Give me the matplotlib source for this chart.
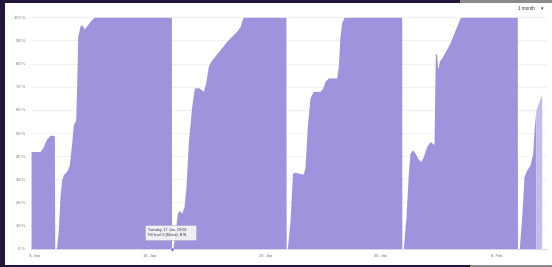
import matplotlib
matplotlib.use("Agg")
import matplotlib.pyplot as plt
import matplotlib.dates as mdates
from matplotlib.patches import Rectangle, FancyBboxPatch
import pandas as pd

# ---------------- data ----------------
times = [
    "2023-01-08 19:00", "2023-01-09 08:00", "2023-01-09 10:30", "2023-01-09 12:50",
    "2023-01-09 15:15", "2023-01-09 17:45", "2023-01-09 20:00", "2023-01-09 22:30",
    "2023-01-10 04:50", "2023-01-10 05:30", "2023-01-10 07:15", "2023-01-10 08:15",
    "2023-01-10 10:35", "2023-01-10 13:05", "2023-01-10 15:30", "2023-01-10 17:55",
    "2023-01-10 22:50", "2023-01-11 02:35", "2023-01-11 06:05", "2023-01-11 08:25",
    "2023-01-11 11:55", "2023-01-11 13:25", "2023-01-11 14:50", "2023-01-11 16:15",
    "2023-01-11 18:10", "2023-01-11 20:40", "2023-01-12 00:25", "2023-01-12 03:55",
    "2023-01-12 08:45", "2023-01-12 13:30", "2023-01-12 15:00", "2023-01-17 07:05",
    "2023-01-17 07:20", "2023-01-17 09:25", "2023-01-17 12:20", "2023-01-17 15:45",
    "2023-01-17 18:35", "2023-01-17 22:05", "2023-01-18 01:30", "2023-01-18 04:20",
    "2023-01-18 07:40", "2023-01-18 12:40", "2023-01-18 16:25", "2023-01-18 22:15",
    "2023-01-19 01:45", "2023-01-19 05:30", "2023-01-19 09:00", "2023-01-19 12:50",
    "2023-01-19 16:20", "2023-01-19 20:05", "2023-01-20 15:35", "2023-01-21 06:05",
    "2023-01-21 10:55", "2023-01-21 14:50", "2023-01-21 15:45", "2023-01-24 05:45",
    "2023-01-24 06:00", "2023-01-24 07:40", "2023-01-24 11:40", "2023-01-24 15:15",
    "2023-01-24 18:55", "2023-01-25 02:10", "2023-01-25 07:00", "2023-01-25 09:25",
    "2023-01-25 12:50", "2023-01-25 16:45", "2023-01-25 21:30", "2023-01-26 07:15",
    "2023-01-26 11:10", "2023-01-26 14:35", "2023-01-26 19:20", "2023-01-27 07:35",
    "2023-01-27 09:55", "2023-01-27 12:20", "2023-01-27 14:50", "2023-01-27 18:10",
    "2023-01-31 06:05", "2023-01-31 06:20", "2023-01-31 08:25", "2023-01-31 12:20",
    "2023-01-31 15:45", "2023-01-31 18:10", "2023-01-31 22:05", "2023-02-01 01:30",
    "2023-02-01 06:15", "2023-02-01 09:45", "2023-02-01 13:30", "2023-02-01 18:30",
    "2023-02-01 23:15", "2023-02-02 02:35", "2023-02-02 05:05", "2023-02-02 07:00",
    "2023-02-02 09:00", "2023-02-02 10:30", "2023-02-02 12:50", "2023-02-02 16:20",
    "2023-02-03 04:20", "2023-02-03 14:05", "2023-02-03 18:55", "2023-02-03 20:20",
    "2023-02-07 06:15", "2023-02-07 06:30", "2023-02-07 09:10", "2023-02-07 12:40",
    "2023-02-07 16:00", "2023-02-07 19:55", "2023-02-08 00:45", "2023-02-08 04:40",
    "2023-02-08 07:00", "2023-02-08 09:25", "2023-02-08 12:50", "2023-02-08 15:15",
    "2023-02-08 17:45",
]
fill_level = [
    42, 42, 43, 44, 46, 47.5, 48, 49,
    49, 0, 0, 1, 8, 22.5, 29.7, 32,
    33.5, 36, 45.6, 53.5, 55.7, 71.7, 91.8, 93.4,
    96.3, 96.8, 95, 96.3, 98.3, 99.7, 100, 100,
    0, 0, 6.8, 15.3, 16.6, 15.3, 18.2, 26.8,
    45.6, 61.5, 69.4, 69.6, 69, 68, 71.6, 78.8,
    81, 82.4, 89.6, 94, 96, 99.7, 100, 100,
    0, 0, 12, 32.6, 33, 32.5, 32.3, 35.3,
    52.8, 65.1, 68, 68, 69.4, 72.3, 73.8, 73.8,
    78.8, 91.8, 97.6, 100, 100, 0, 0, 13.9,
    32.6, 41.3, 42.7, 41.3, 38.7, 37.7, 39.8, 44.2,
    46.3, 45.6, 44.9, 84.6, 83.8, 77.4, 81, 82.4,
    88.9, 96.1, 99.7, 100, 100, 0, 0, 13.9,
    31.2, 34, 36.2, 41.3, 52.8, 60, 62.9, 65,
    66.5,
]
highlight_start = "2023-02-08 09:25"
tick_dates = ["2023-01-09", "2023-01-16", "2023-01-23", "2023-01-30", "2023-02-06"]
tick_labels = ["9. Jan", "16. Jan", "23. Jan", "30. Jan", "6. Feb"]
y_ticks = [0, 10, 20, 30, 40, 50, 60, 70, 80, 90, 100]
tooltip_time = "2023-01-17 07:20"
tooltip_value = 0
tooltip_line1 = "Tuesday, 17. Jan, 09:09"
tooltip_line2 = "Fill level 2 (Mixed): "
tooltip_bold = "0 %"
range_label = "1 month"

# ---------------- styling ----------------
W, H = 552, 267
FILL = "#9f93dd"
FILL_LIGHT = "#c6bdee"
BORDER = "#21153a"
TXT = "#6e6e6e"
plt.rcParams['font.family'] = ['Liberation Sans', 'DejaVu Sans']

fig = plt.figure(figsize=(W / 100, H / 100), dpi=100)
fig.patch.set_facecolor(BORDER)

def fx(px):
    return px / W

def fy(py):
    return 1 - py / H

# white panel
fig.add_artist(Rectangle((fx(5), fy(265)), fx(547), 262 / H, transform=fig.transFigure,
                         facecolor="white", edgecolor="none", zorder=-1))
# greyish picture fragments at the right corners
fig.add_artist(Rectangle((fx(460), fy(3)), fx(92), 3 / H, transform=fig.transFigure,
                         facecolor="#8c8a8e", edgecolor="none", zorder=-1))
fig.add_artist(Rectangle((fx(470), 0), fx(82), 2 / H, transform=fig.transFigure,
                         facecolor="#8c8a8e", edgecolor="none", zorder=-1))

# plot area
left_px, right_px, top_px, bot_px = 31, 546.7, 17.3, 248.7
ax = fig.add_axes([fx(left_px), fy(bot_px), fx(right_px - left_px), (bot_px - top_px) / H])
ax.set_facecolor("none")

t = pd.to_datetime(times)
v = pd.Series(fill_level, dtype=float)
tn = mdates.date2num(t.to_pydatetime())
hs = mdates.date2num(pd.Timestamp(highlight_start).to_pydatetime())
split = int((tn <= hs).sum())

ax.fill_between(tn[:split], 0, v[:split], color=FILL, lw=0, zorder=2)
ax.fill_between(tn[split - 1:], 0, v[split - 1:], color=FILL_LIGHT, lw=0, zorder=2)

# x range: 9 Jan at pixel 34.5, 16.5 px per day
d0 = mdates.date2num(pd.Timestamp("2023-01-09").to_pydatetime())
ppd = 16.5
ax.set_xlim(d0 + (left_px - 34.5) / ppd, d0 + (right_px - 34.5) / ppd)
ax.set_ylim(0, 100)

ax.set_yticks(y_ticks)
ax.set_yticklabels([f"{y} %" for y in y_ticks])
ax.set_xticks(mdates.date2num(pd.to_datetime(tick_dates).to_pydatetime()))
ax.set_xticklabels(tick_labels)
ax.tick_params(axis="y", length=0, pad=4.3, labelsize=3.0, labelcolor=TXT)
ax.tick_params(axis="x", length=0, pad=3.6, labelsize=2.9, labelcolor=TXT)
ax.grid(axis="y", color="#ececec", lw=0.5, zorder=1)
for s in ["left", "right", "top"]:
    ax.spines[s].set_visible(False)
ax.spines["bottom"].set_color("#ccd6eb")
ax.spines["bottom"].set_linewidth(0.6)
ax.spines["bottom"].set_zorder(3)

# tooltip marker
ax.plot(mdates.date2num(pd.Timestamp(tooltip_time).to_pydatetime()), tooltip_value, "o",
        ms=2.6, color="#8a7ddb", mec="white", mew=0.3, zorder=6, clip_on=False)

# overlay in pixel coordinates
ov = fig.add_axes([0, 0, 1, 1], zorder=5)
ov.set_xlim(0, W)
ov.set_ylim(H, 0)
ov.axis("off")
ov.set_facecolor("none")
ov.add_patch(FancyBboxPatch((145.5, 225.5), 51, 15, boxstyle="round,pad=0,rounding_size=1",
                            facecolor="#f7f7f7", edgecolor="#a9a9b5", lw=0.4, alpha=0.92))
ov.text(148, 230, tooltip_line1, fontsize=2.6, color="#333333", va="center", ha="left")
t2 = ov.text(148, 235, tooltip_line2, fontsize=2.6, color="#333333", va="center", ha="left")
ov.annotate(tooltip_bold, xy=(1, 0.5), xycoords=t2, fontsize=2.6, color="#333333",
            va="center", ha="left", fontweight="bold")

ov.text(518, 8.5, range_label, fontsize=3.3, color="#333333", va="center", ha="left")
ov.text(542.7, 8.5, "\u25BE", fontsize=3.6, color="#333333", va="center", ha="center",
        family=["DejaVu Sans"])

fig.savefig("out.png", dpi=100, facecolor=fig.get_facecolor())
